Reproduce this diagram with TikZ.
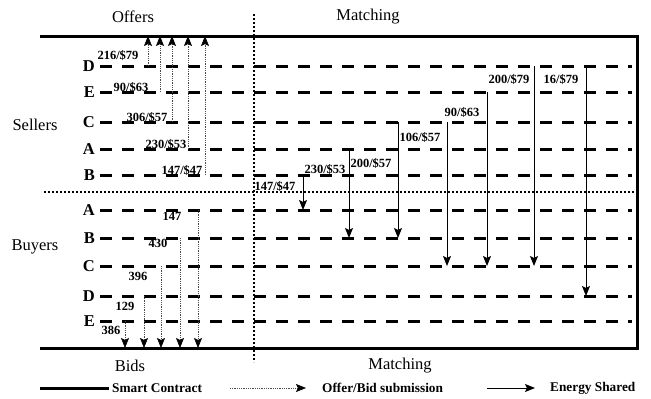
\documentclass[tikz,border=0pt]{standalone}
\usepackage{fontspec}
\setmainfont{Liberation Serif}
\usetikzlibrary{arrows.meta, positioning, calc}
\tikzstyle{rail} = [line width=3pt]
\tikzstyle{row} = [line width=3pt, dash pattern=on 12pt off 10pt]
\tikzstyle{divider} = [line width=2pt, dash pattern=on 1.6pt off 2.4pt]
\tikzstyle{submit} = [line width=0.7pt, draw=black!70, dash pattern=on 0.9pt off 0.9pt, -{Stealth[length=10pt,width=8pt,inset=2pt,color=black]}]
\tikzstyle{shared} = [line width=1pt, -{Stealth[length=10pt,width=8pt,inset=2pt]}]
\tikzstyle{party} = [font=\bfseries\fontsize{16.5}{17}\selectfont, inner sep=1pt]
\tikzstyle{amount} = [font=\bfseries\fontsize{12.5}{13}\selectfont, inner sep=0pt]
\tikzstyle{heading} = [font=\fontsize{16.5}{17}\selectfont, inner sep=0pt]
\tikzstyle{legend} = [font=\bfseries\fontsize{13.3}{14}\selectfont, inner sep=0pt, anchor=west]

\begin{document}
\begin{tikzpicture}[x=1pt, y=-1pt]
  \useasboundingbox (0,0) rectangle (651,399);

  % smart contract frame
  \coordinate (tl) at (40,36);
  \coordinate (tr) at (637,36);
  \coordinate (br) at (637,348);
  \coordinate (bl) at (40,348);
  \draw[rail] (tl) -- (tr) -- (br) -- (bl);

  % sellers and buyers
  \foreach \name/\letter/\y in {sD/D/66, sE/E/92, sC/C/122, sA/A/149, sB/B/175,
                                bA/A/210, bB/B/238, bC/C/266, bD/D/296, bE/E/321} {
    \coordinate (\name) at (100,\y);
    \coordinate (\name end) at (632,\y);
    \node[party, left=4pt of \name] (l\name) {\letter};
    \draw[row] (\name) -- (\name end);
  }

  % dividers
  \coordinate (vtop) at (254,14);
  \coordinate (vbot) at (254,362);
  \coordinate (hleft) at (44,192);
  \coordinate (hright) at (635,192);
  \draw[divider] (vtop) -- (vbot);
  \draw[divider] (hleft) -- (hright);

  % headings
  \node[heading] (offers) at (133,17) {Offers};
  \node[heading] (matchtop) at (368,17) {Matching};
  \node[heading] (bids) at (130,366) {Bids};
  \node[heading] (matchbot) at (400,366) {Matching};
  \node[heading] (sellers) at (35,125) {Sellers};
  \node[heading] (buyers) at (35,247) {Buyers};

  % offers
  \foreach \name/\x in {sD/148, sE/160, sC/172, sA/188, sB/205}
    \draw[submit] (\x,0 |- \name) -- (\x,0 |- tl);
  \node[amount] (oD) at (118,55) {216/\$79};
  \node[amount] (oE) at (131,87) {90/\$63};
  \node[amount] (oC) at (147,117) {306/\$57};
  \node[amount] (oA) at (166,144) {230/\$53};
  \node[amount] (oB) at (182,170) {147/\$47};

  % bids
  \foreach \name/\x in {bE/125, bD/144, bC/161, bB/180, bA/198}
    \draw[submit] (\x,0 |- \name) -- (\x,0 |- bl);
  \node[amount] (qA) at (172,216) {147};
  \node[amount] (qB) at (158,243) {430};
  \node[amount] (qC) at (138,276) {396};
  \node[amount] (qD) at (125,306) {129};
  \node[amount] (qE) at (111,330) {386};

  % matching
  \foreach \from/\to/\x in {sB/bA/303, sA/bB/349, sC/bB/398, sC/bC/447,
                            sE/bC/487, sD/bC/534, sD/bD/586}
    \draw[shared] (\x,0 |- \from) -- (\x,0 |- \to);
  \node[amount] (m1) at (275,186) {147/\$47};
  \node[amount] (m2) at (325,169) {230/\$53};
  \node[amount] (m3) at (371,163) {200/\$57};
  \node[amount] (m4) at (420,137) {106/\$57};
  \node[amount] (m5) at (462,112) {90/\$63};
  \node[amount] (m6) at (509,79) {200/\$79};
  \node[amount] (m7) at (561,79) {16/\$79};

  % legend
  \coordinate (k1) at (40,388);
  \node[legend] (kcontract) at (112,388) {Smart Contract};
  \draw[rail] (k1) -- ($(kcontract.west)+(-3,0)$);
  \coordinate (k2) at (230,388);
  \node[legend] (ksubmit) at (322,388) {Offer/Bid submission};
  \draw[submit] (k2) -- ($(ksubmit.west)+(-16,0)$);
  \coordinate (k3) at (487,388);
  \node[legend] (kshared) at (550,388) {Energy Shared};
  \draw[shared] (k3) -- ($(kshared.west)+(-15,0)$);
\end{tikzpicture}
\end{document}
